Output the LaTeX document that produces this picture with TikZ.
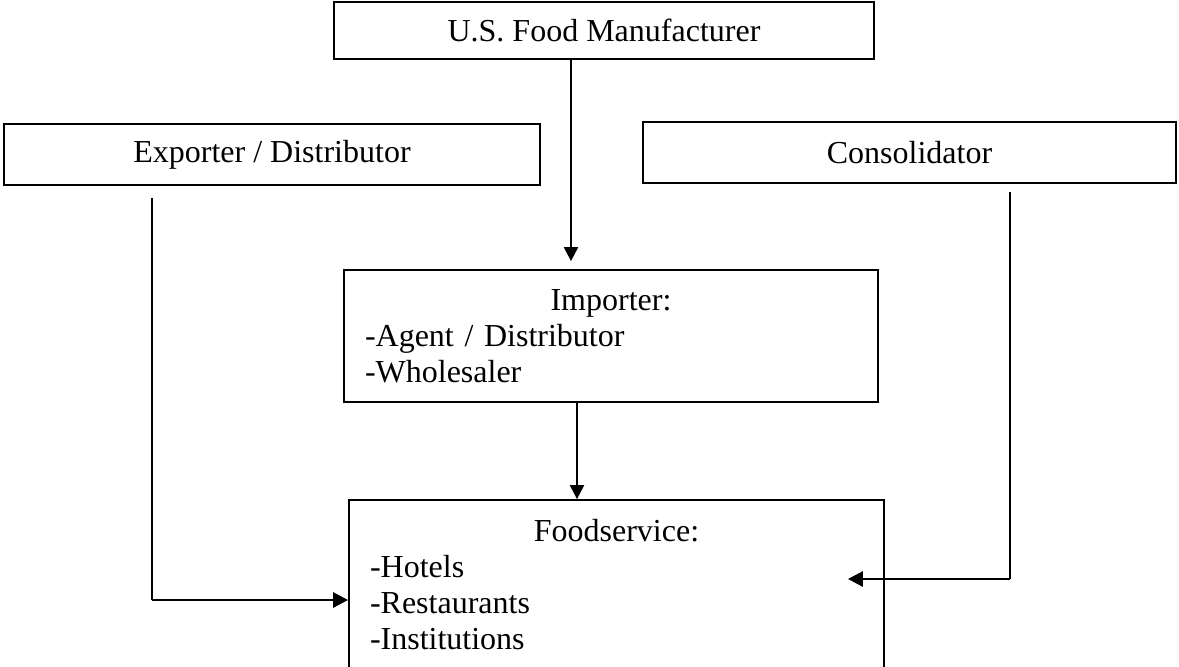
\documentclass[tikz,border=0pt]{standalone}
\usepackage{fontspec}
\setmainfont{Liberation Serif}
\usetikzlibrary{arrows.meta}
\tikzset{
  box/.style={draw, line width=0.9pt, rectangle, inner sep=0pt, font=\fontsize{16}{18}\selectfont},
  listbox/.style={box, align=left, inner xsep=10.5pt},
  conn/.style={line width=1.1pt, -{Triangle[length=7pt,width=7pt]}},
  thinline/.style={line width=0.7pt},
  thickconn/.style={line width=1.4pt, -{Triangle[length=7.5pt,width=7.5pt]}},
}
\begin{document}
\begin{tikzpicture}[x=0.5pt,y=-0.5pt]
\useasboundingbox (0,0) rectangle (1179,666);
\node[box, minimum width=270pt, minimum height=28.5pt] (mfr) at (604,30.5) {U.S. Food Manufacturer};
\node[box, minimum width=268pt, minimum height=30.5pt] (exp) at (272,154.5) {Exporter / Distributor};
\node[box, minimum width=266.5pt, minimum height=30.5pt] (con) at (909.5,152.5) {Consolidator};
\node[listbox, text width=246pt, minimum height=66pt] (imp) at (611,336)
  {\hfill Importer:\hfill\null\\-Agent / Distributor\\-Wholesaler};
\node[listbox, text width=246.5pt, minimum height=84.5pt] (fs) at (616.5,584.5)
  {\hfill Foodservice:\hfill\null\\-Hotels\\-Restaurants\\-Institutions};
\coordinate (lstart) at ([xshift=-60pt,yshift=-6pt]exp.south);
\coordinate (lend) at ([yshift=-7.75pt]fs.west);
\coordinate (lcorner) at (lstart |- lend);
\coordinate (rstart) at ([xshift=50.25pt,yshift=-4pt]con.south);
\coordinate (rtip) at ([xshift=-18.5pt,yshift=2.75pt]fs.east);
\coordinate (rcorner) at (rstart |- rtip);
\draw[conn] ([xshift=-16.5pt]mfr.south) -- ([xshift=-16.5pt,yshift=4pt]mfr.south |- imp.north);
\draw[conn] ([xshift=-17pt]imp.south) -- ([xshift=-17pt]imp.south |- fs.north);
\draw[thinline] (lstart) -- (lcorner);
\draw[thickconn] (lcorner) -- (lend);
\draw[thinline] (rstart) -- (rcorner);
\draw[thickconn] (rcorner) -- (rtip);
\end{tikzpicture}
\end{document}
